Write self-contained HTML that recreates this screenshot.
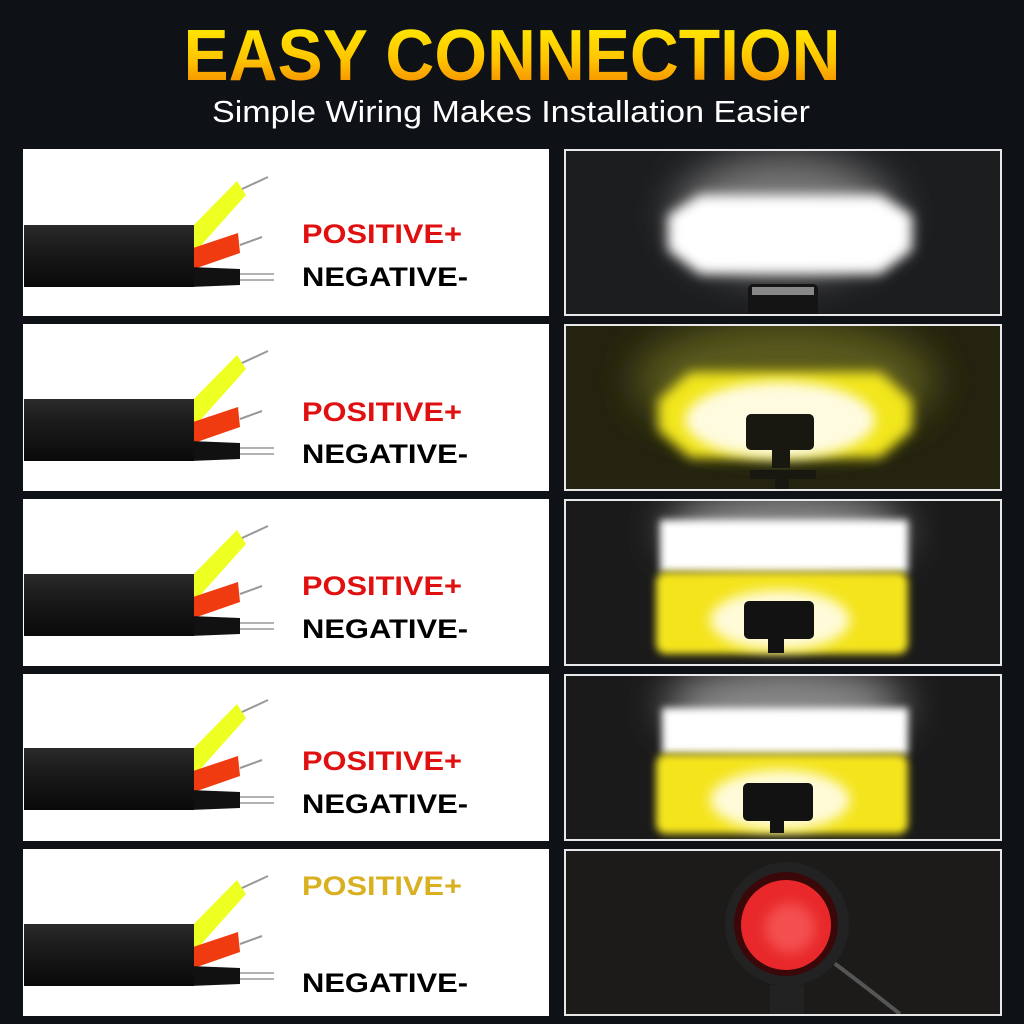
<!DOCTYPE html>
<html><head><meta charset="utf-8"><style>html,body{margin:0;padding:0;background:#0e1116}svg{display:block}</style></head>
<body>
<svg width="1024" height="1024" viewBox="0 0 1024 1024" xmlns="http://www.w3.org/2000/svg" font-family="Liberation Sans, sans-serif">
<defs>
<linearGradient id="tg" x1="0" y1="0" x2="0" y2="1"><stop offset="0" stop-color="#fff200"/><stop offset="0.55" stop-color="#ffc400"/><stop offset="1" stop-color="#f07a00"/></linearGradient>
<linearGradient id="cab" x1="0" y1="0" x2="0" y2="1"><stop offset="0" stop-color="#2a2a2a"/><stop offset="0.4" stop-color="#1a1a1a"/><stop offset="1" stop-color="#0a0a0a"/></linearGradient>
<filter id="b8" x="-50%" y="-50%" width="200%" height="200%"><feGaussianBlur stdDeviation="6"/></filter>
<filter id="b20" x="-50%" y="-50%" width="200%" height="200%"><feGaussianBlur stdDeviation="20"/></filter>
<filter id="b4" x="-50%" y="-50%" width="200%" height="200%"><feGaussianBlur stdDeviation="4"/></filter>
<clipPath id="c1"><rect x="566" y="151" width="434" height="163"/></clipPath>
<clipPath id="c2"><rect x="566" y="326" width="434" height="163"/></clipPath>
<clipPath id="c3"><rect x="566" y="501" width="434" height="163"/></clipPath>
<clipPath id="c4"><rect x="566" y="676" width="434" height="163"/></clipPath>
<clipPath id="c5"><rect x="566" y="851" width="434" height="163"/></clipPath>
<g id="cable">
<polygon points="186,84 237,32 246,46 196,102" fill="#eeff22"/>
<line x1="242" y1="40" x2="268" y2="28" stroke="#999" stroke-width="2"/>
<polygon points="190,100 238,84 240,104 194,120" fill="#f03a10"/>
<line x1="240" y1="96" x2="262" y2="88" stroke="#999" stroke-width="2"/>
<polygon points="190,118 240,120 240,136 190,138" fill="#111"/>
<line x1="240" y1="125" x2="274" y2="125" stroke="#999" stroke-width="1.5"/>
<line x1="240" y1="131" x2="274" y2="131" stroke="#999" stroke-width="1.5"/>
<rect x="24" y="76" width="170" height="62" fill="url(#cab)"/>
</g>
</defs>
<rect width="1024" height="1024" fill="#0e1116"/>
<text x="512" y="80" text-anchor="middle" font-size="72" font-weight="bold" fill="url(#tg)" textLength="657" lengthAdjust="spacingAndGlyphs">EASY CONNECTION</text>
<text x="511" y="122" text-anchor="middle" font-size="31" fill="#fff" textLength="598" lengthAdjust="spacingAndGlyphs">Simple Wiring Makes Installation Easier</text>

<g>
<rect x="23" y="149" width="526" height="167" fill="#fff"/>
<use href="#cable" transform="translate(0,149)"/>
<text x="302" y="243" font-size="27" font-weight="bold" fill="#e01010" textLength="160" lengthAdjust="spacingAndGlyphs">POSITIVE+</text>
<text x="302" y="286" font-size="27" font-weight="bold" fill="#000" textLength="166" lengthAdjust="spacingAndGlyphs">NEGATIVE-</text>
</g>
<g>
<rect x="23" y="324" width="526" height="167" fill="#fff"/>
<use href="#cable" transform="translate(0,323)"/>
<text x="302" y="421" font-size="27" font-weight="bold" fill="#e01010" textLength="160" lengthAdjust="spacingAndGlyphs">POSITIVE+</text>
<text x="302" y="463" font-size="27" font-weight="bold" fill="#000" textLength="166" lengthAdjust="spacingAndGlyphs">NEGATIVE-</text>
</g>
<g>
<rect x="23" y="499" width="526" height="167" fill="#fff"/>
<use href="#cable" transform="translate(0,498)"/>
<text x="302" y="595" font-size="27" font-weight="bold" fill="#e01010" textLength="160" lengthAdjust="spacingAndGlyphs">POSITIVE+</text>
<text x="302" y="638" font-size="27" font-weight="bold" fill="#000" textLength="166" lengthAdjust="spacingAndGlyphs">NEGATIVE-</text>
</g>
<g>
<rect x="23" y="674" width="526" height="167" fill="#fff"/>
<use href="#cable" transform="translate(0,672)"/>
<text x="302" y="770" font-size="27" font-weight="bold" fill="#e01010" textLength="160" lengthAdjust="spacingAndGlyphs">POSITIVE+</text>
<text x="302" y="813" font-size="27" font-weight="bold" fill="#000" textLength="166" lengthAdjust="spacingAndGlyphs">NEGATIVE-</text>
</g>
<g>
<rect x="23" y="849" width="526" height="167" fill="#fff"/>
<use href="#cable" transform="translate(0,848)"/>
<text x="302" y="895" font-size="27" font-weight="bold" fill="#d8b020" textLength="160" lengthAdjust="spacingAndGlyphs">POSITIVE+</text>
<text x="302" y="992" font-size="27" font-weight="bold" fill="#000" textLength="166" lengthAdjust="spacingAndGlyphs">NEGATIVE-</text>
</g>

<g clip-path="url(#c1)">
<rect x="566" y="151" width="434" height="163" fill="#1c1d1f"/>
<ellipse cx="785" cy="215" rx="110" ry="60" fill="#777" filter="url(#b20)"/>
<polygon points="668,215 700,195 880,195 912,215 912,250 880,274 700,274 668,250" fill="#fff" filter="url(#b8)"/>
<rect x="748" y="284" width="70" height="32" rx="5" fill="#141414"/>
<rect x="752" y="287" width="62" height="8" fill="#888"/>
</g>
<rect x="565" y="150" width="436" height="165" fill="none" stroke="#e8e8e8" stroke-width="2"/>

<g clip-path="url(#c2)">
<rect x="566" y="326" width="434" height="163" fill="#23230f"/>
<ellipse cx="785" cy="380" rx="150" ry="60" fill="#5a5a1c" filter="url(#b20)"/>
<polygon points="658,400 690,372 880,372 912,400 912,430 880,458 690,458 658,430" fill="#f2e61e" filter="url(#b8)"/>
<ellipse cx="780" cy="420" rx="95" ry="38" fill="#fffbe0" filter="url(#b8)"/>
<rect x="746" y="414" width="68" height="36" rx="5" fill="#181810"/>
<rect x="772" y="450" width="18" height="18" fill="#181810"/>
<rect x="750" y="470" width="66" height="9" fill="#181810"/>
<rect x="775" y="479" width="14" height="12" fill="#181810"/>
</g>
<rect x="565" y="325" width="436" height="165" fill="none" stroke="#e8e8e8" stroke-width="2"/>

<g clip-path="url(#c3)">
<rect x="566" y="501" width="434" height="163" fill="#1a1a1a"/>
<ellipse cx="785" cy="530" rx="120" ry="40" fill="#888" filter="url(#b20)"/>
<rect x="660" y="520" width="248" height="52" fill="#fff" filter="url(#b4)"/>
<rect x="656" y="572" width="252" height="82" rx="10" fill="#f4e41a" filter="url(#b4)"/>
<ellipse cx="780" cy="620" rx="70" ry="30" fill="#fffbd8" filter="url(#b8)"/>
<rect x="744" y="601" width="70" height="38" rx="5" fill="#121212"/>
<rect x="768" y="639" width="16" height="14" fill="#121212"/>
</g>
<rect x="565" y="500" width="436" height="165" fill="none" stroke="#e8e8e8" stroke-width="2"/>

<g clip-path="url(#c4)">
<rect x="566" y="676" width="434" height="163" fill="#1a1a1a"/>
<ellipse cx="785" cy="705" rx="120" ry="40" fill="#888" filter="url(#b20)"/>
<rect x="662" y="708" width="246" height="46" fill="#fff" filter="url(#b4)"/>
<rect x="656" y="754" width="252" height="80" rx="10" fill="#f4e41a" filter="url(#b4)"/>
<ellipse cx="780" cy="800" rx="70" ry="30" fill="#fffbd8" filter="url(#b8)"/>
<rect x="743" y="783" width="70" height="38" rx="5" fill="#121212"/>
<rect x="770" y="821" width="14" height="12" fill="#121212"/>
</g>
<rect x="565" y="675" width="436" height="165" fill="none" stroke="#e8e8e8" stroke-width="2"/>

<g clip-path="url(#c5)">
<rect x="566" y="851" width="434" height="163" fill="#1c1b1a"/>
<path d="M830 960 Q870 990 900 1014" stroke="#555" stroke-width="4" fill="none"/>
<circle cx="787" cy="924" r="62" fill="#222"/>
<circle cx="786" cy="924" r="52" fill="#3a0808"/>
<circle cx="786" cy="925" r="45" fill="#e8282a"/>
<circle cx="790" cy="928" r="25" fill="#f45050" filter="url(#b8)"/>
<rect x="770" y="985" width="34" height="30" fill="#222"/>
</g>
<rect x="565" y="850" width="436" height="165" fill="none" stroke="#e8e8e8" stroke-width="2"/>
</svg>
</body></html>
